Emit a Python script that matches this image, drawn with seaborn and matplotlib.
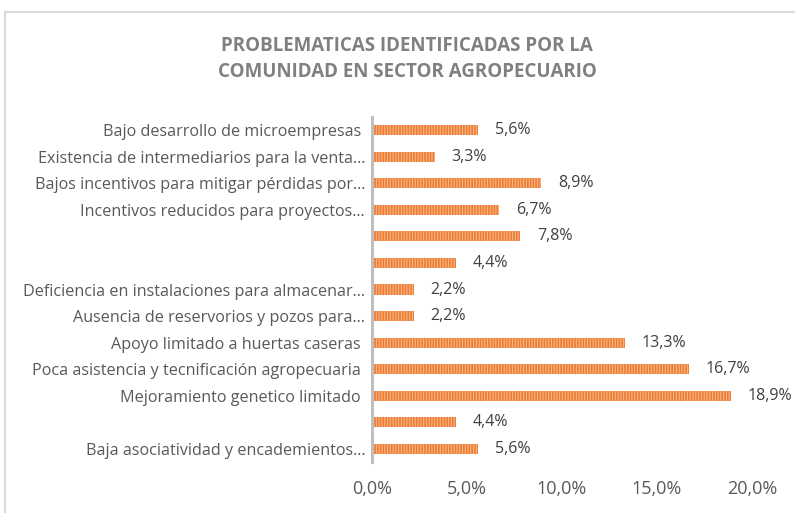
import matplotlib
matplotlib.use("Agg")
import matplotlib.pyplot as plt
from matplotlib.lines import Line2D
import seaborn as sns
import pandas as pd

# ---- data ----
categories = [
    "Bajo desarrollo de microempresas ",
    "Existencia de intermediarios para la venta…",
    "Bajos incentivos para mitigar pérdidas por…",
    "Incentivos reducidos para proyectos…",
    "",
    " ",
    "Deficiencia en instalaciones para almacenar…",
    "Ausencia de reservorios y pozos para…",
    "Apoyo limitado a huertas caseras ",
    "Poca asistencia y tecnificación agropecuaria ",
    "Mejoramiento genetico limitado ",
    "  ",
    "Baja asociatividad y encademientos…",
]
values = [5.6, 3.3, 8.9, 6.7, 7.8, 4.4, 2.2, 2.2, 13.3, 16.7, 18.9, 4.4, 5.6]
value_labels = ["5,6%", "3,3%", "8,9%", "6,7%", "7,8%", "4,4%", "2,2%",
                "2,2%", "13,3%", "16,7%", "18,9%", "4,4%", "5,6%"]
x_ticks = [0, 5, 10, 15, 20]
x_tick_labels = ["0,0%", "5,0%", "10,0%", "15,0%", "20,0%"]
title = "PROBLEMATICAS IDENTIFICADAS POR LA\nCOMUNIDAD EN SECTOR AGROPECUARIO"

df = pd.DataFrame({"cat": categories, "val": values})

sns.set_theme(style="white")
plt.rcParams["font.family"] = ["Open Sans", "DejaVu Sans"]
plt.rcParams["hatch.linewidth"] = 0.8

fig = plt.figure(figsize=(7.95, 5.13), dpi=100)
ax = fig.add_axes([372 / 795, 1 - 462.3 / 513, 380 / 795, 345.6 / 513])

sns.barplot(data=df, x="val", y="cat", orient="h", order=categories,
            color="#ED7D31", width=0.38, edgecolor="#F7B58A", linewidth=0,
            hatch="||||||", saturation=1, ax=ax)

ax.set_xlim(0, 20)
ax.set_xticks(x_ticks)
ax.set_xticklabels(x_tick_labels, fontsize=13, color="#595959")
ax.tick_params(axis="x", length=0, pad=13)
ax.tick_params(axis="y", length=0, pad=5, labelsize=11.6, labelcolor="#595959")
ax.set_xlabel("")
ax.set_ylabel("")
for s in ["top", "right", "bottom"]:
    ax.spines[s].set_visible(False)
ax.spines["left"].set_color("#BFBFBF")
ax.spines["left"].set_linewidth(2.2)

ax.bar_label(ax.containers[0], labels=value_labels, padding=12,
             fontsize=11.5, color="#404040", clip_on=False)

fig.text(407 / 795, 1 - 59 / 513, title, ha="center", va="center",
         fontsize=13.5, fontweight="bold", color="#808080", linespacing=1.45)

# outer chart frame (partially visible)
fig.add_artist(Line2D([5 / 795, 5 / 795], [0, 1 - 12 / 513],
                      transform=fig.transFigure, color="#D9D9D9", lw=1.5))
fig.add_artist(Line2D([5 / 795, 794 / 795], [1 - 12 / 513, 1 - 12 / 513],
                      transform=fig.transFigure, color="#D9D9D9", lw=1.5))

fig.savefig("out.png", dpi=100)
